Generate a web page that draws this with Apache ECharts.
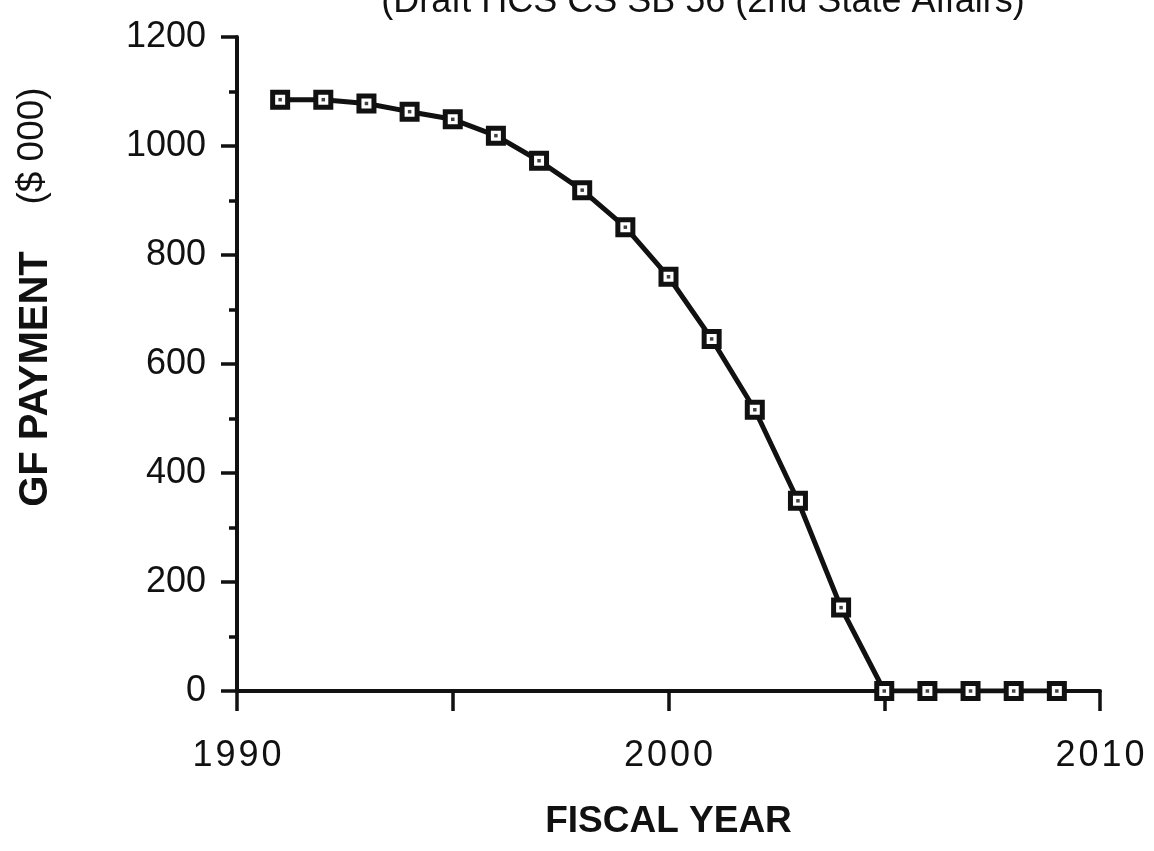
<!DOCTYPE html>
<html>
<head>
<meta charset="utf-8">
<script src="https://cdn.jsdelivr.net/npm/echarts@6/dist/echarts.min.js"></script>
<style>
html,body{margin:0;padding:0;background:#fff;}
#chart{width:1154px;height:851px;}
</style>
</head>
<body>
<div id="chart"></div>
<script>
var titleText = '(Draft HCS CS SB 56 (2nd State Affairs)';
var xAxisName = 'FISCAL YEAR';
var yAxisNameMain = 'GF PAYMENT';
var yAxisNameUnit = '($ 000)';
var years = [1991,1992,1993,1994,1995,1996,1997,1998,1999,2000,2001,2002,2003,2004,2005,2006,2007,2008,2009];
var payments = [1085,1085,1078,1063,1049,1019,973,919,851,760,646,516,349,153,0,0,0,0,0];
var xTickLabels = [1990, 2000, 2010];
var yTickLabels = [0, 200, 400, 600, 800, 1000, 1200];

var pts = years.map(function(y,i){return [y, payments[i]];});
var font = '"Liberation Sans", Arial, Helvetica, sans-serif';

var chart = echarts.init(document.getElementById('chart'));
chart.setOption({
  backgroundColor: '#fff',
  animation: false,
  grid: {left: 237, right: 54, top: 37, bottom: 160},
  graphic: [{
    type: 'text',
    x: 703, y: 2.5,
    style: {text: titleText, x: 0, y: 0, textAlign: 'center', textVerticalAlign: 'middle',
            font: '36px ' + font, fill: '#111'}
  }, {
    type: 'text',
    x: 36, y: 379, rotation: Math.PI / 2,
    style: {text: yAxisNameMain, x: 0, y: 0, textAlign: 'center', textVerticalAlign: 'middle',
            font: 'bold 40px ' + font, fill: '#111'}
  }, {
    type: 'text',
    x: 33, y: 146, rotation: Math.PI / 2,
    style: {text: yAxisNameUnit, x: 0, y: 0, textAlign: 'center', textVerticalAlign: 'middle',
            font: '37px ' + font, fill: '#111'}
  }],
  xAxis: {
    type: 'value', min: 1990, max: 2010, interval: 5,
    name: xAxisName, nameLocation: 'middle', nameGap: 112,
    nameTextStyle: {fontFamily: font, fontWeight: 'bold', fontSize: 37, color: '#111'},
    axisLine: {show: true, onZero: false, lineStyle: {color: '#111', width: 4}},
    axisTick: {show: true, inside: false, length: 20, lineStyle: {color: '#111', width: 3.5}},
    axisLabel: {
      fontFamily: font, fontSize: 36, color: '#111', margin: 47,
      formatter: function(v){ return xTickLabels.indexOf(v) >= 0 ? String(v).split('').join('\u200A') : ''; }
    },
    splitLine: {show: false}
  },
  yAxis: {
    type: 'value', min: 0, max: 1200, interval: 200,
    axisLine: {show: true, lineStyle: {color: '#111', width: 4}},
    axisTick: {show: true, inside: false, length: 16, lineStyle: {color: '#111', width: 3.5}},
    minorTick: {show: true, splitNumber: 2, length: 8, lineStyle: {color: '#111', width: 3.5}},
    axisLabel: {
      fontFamily: font, fontSize: 36, color: '#111', margin: 31,
      formatter: function(v){ return yTickLabels.indexOf(v) >= 0 ? String(v) : ''; }
    },
    splitLine: {show: false}
  },
  series: [{
    type: 'line',
    data: pts,
    lineStyle: {color: '#111', width: 5},
    symbol: 'rect',
    symbolSize: 15,
    showAllSymbol: true,
    itemStyle: {color: '#fff', borderColor: '#111', borderWidth: 5},
    z: 3
  }, {
    type: 'scatter',
    data: pts,
    symbol: 'rect',
    symbolSize: 3.5,
    itemStyle: {color: '#111'},
    z: 4
  }]
});
</script>
</body>
</html>
